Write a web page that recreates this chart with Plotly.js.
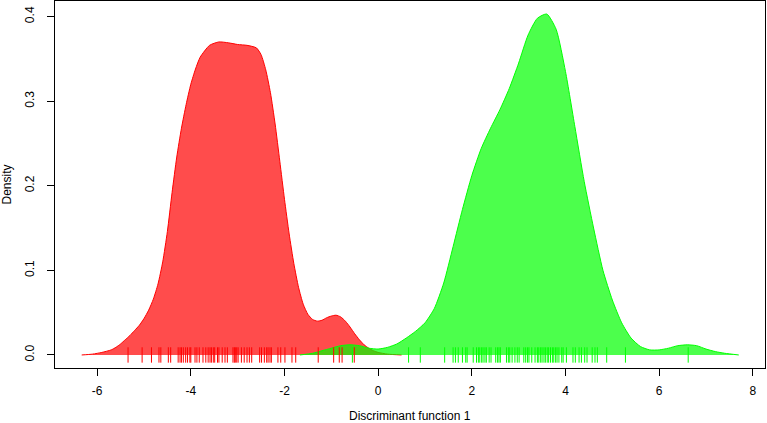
<!DOCTYPE html>
<html>
<head>
<meta charset="utf-8">
<script src="https://cdn.plot.ly/plotly-3.0.1.min.js"></script>
<style>html,body{margin:0;padding:0;background:#fff;}#chart{width:767px;height:423px;}</style>
</head>
<body>
<div id="chart"></div>
<script>
// Density of group 1 (red)
var redX = [-6.33,-6.1,-5.9,-5.7,-5.6,-5.5,-5.4,-5.3,-5.2,-5.1,-5.0,-4.9,-4.8,-4.7,-4.6,-4.5,-4.4,-4.3,-4.2,-4.1,-4.0,-3.9,-3.8,-3.6,-3.4,-3.2,-3.0,-2.8,-2.6,-2.5,-2.4,-2.3,-2.2,-2.1,-2.0,-1.9,-1.8,-1.7,-1.6,-1.5,-1.4,-1.3,-1.2,-1.1,-1.0,-0.9,-0.8,-0.7,-0.6,-0.5,-0.4,-0.3,-0.2,-0.1,0.0,0.2,0.5];
var redY = [0.000,0.001,0.003,0.006,0.009,0.013,0.018,0.023,0.029,0.035,0.043,0.053,0.066,0.084,0.110,0.146,0.192,0.234,0.268,0.296,0.320,0.338,0.352,0.366,0.370,0.369,0.367,0.366,0.363,0.355,0.337,0.310,0.273,0.229,0.184,0.143,0.108,0.080,0.060,0.048,0.042,0.040,0.041,0.044,0.046,0.047,0.045,0.040,0.033,0.025,0.018,0.012,0.008,0.005,0.003,0.001,0.000];
// Density of group 2 (green)
var greenX = [-1.67,-1.4,-1.2,-1.0,-0.8,-0.6,-0.4,-0.2,0.0,0.2,0.4,0.6,0.8,1.0,1.2,1.4,1.6,1.8,2.0,2.2,2.4,2.6,2.8,3.0,3.2,3.4,3.6,3.8,4.0,4.2,4.4,4.6,4.8,5.0,5.2,5.4,5.6,5.8,6.0,6.2,6.4,6.6,6.8,7.0,7.2,7.4,7.7];
var greenY = [0.000,0.002,0.005,0.008,0.011,0.012,0.011,0.008,0.007,0.009,0.013,0.020,0.028,0.038,0.055,0.085,0.128,0.172,0.212,0.244,0.268,0.290,0.315,0.345,0.378,0.398,0.403,0.385,0.335,0.270,0.205,0.150,0.100,0.065,0.038,0.020,0.010,0.006,0.006,0.008,0.011,0.012,0.011,0.007,0.004,0.002,0.000];
// Rug values
var redRug = [-5.34,-5.04,-4.84,-4.68,-4.64,-4.48,-4.43,-4.27,-4.23,-4.20,-4.16,-4.11,-4.07,-4.02,-4.00,-3.91,-3.87,-3.82,-3.74,-3.68,-3.63,-3.59,-3.56,-3.52,-3.49,-3.43,-3.40,-3.33,-3.27,-3.22,-3.10,-3.07,-3.05,-3.02,-2.99,-2.92,-2.86,-2.80,-2.75,-2.70,-2.53,-2.49,-2.43,-2.38,-2.35,-2.31,-2.28,-2.14,-2.08,-1.99,-1.84,-1.76,-1.28,-0.95,-0.83,-0.77,-0.51];
var greenRug = [-0.55,0.65,0.90,1.42,1.60,1.65,1.71,1.80,1.87,1.90,2.03,2.10,2.14,2.17,2.21,2.24,2.28,2.31,2.37,2.41,2.51,2.55,2.58,2.61,2.74,2.78,2.81,2.86,2.92,2.97,3.01,3.11,3.15,3.19,3.22,3.28,3.35,3.40,3.43,3.47,3.50,3.54,3.57,3.61,3.64,3.68,3.72,3.75,3.79,3.82,3.86,3.92,3.95,4.02,4.16,4.21,4.29,4.34,4.41,4.46,4.57,4.63,4.68,4.88,5.28,6.62];
var xTicks = [-6,-4,-2,0,2,4,6,8];
var yTicks = [0.0,0.1,0.2,0.3,0.4];
var yTickText = ['0.0','0.1','0.2','0.3','0.4'];
var xTitle = 'Discriminant function 1';
var yTitle = 'Density';

function zeros(a){return a.map(function(){return 0;});}

var traces = [
  {x: redX, y: redY, type:'scatter', mode:'lines', fill:'toself', fillcolor:'rgba(255,0,0,0.7)',
   line:{color:'rgb(255,0,0)', width:1, shape:'spline', smoothing:0.6}, hoverinfo:'skip'},
  {x: greenX, y: greenY, type:'scatter', mode:'lines', fill:'toself', fillcolor:'rgba(0,255,0,0.7)',
   line:{color:'rgb(0,255,0)', width:1, shape:'spline', smoothing:0.6}, hoverinfo:'skip'},
  {x: redRug, y: zeros(redRug), type:'scatter', mode:'markers',
   marker:{symbol:'line-ns', size:11, line:{color:'rgb(255,0,0)', width:1}}, hoverinfo:'x'},
  {x: greenRug, y: zeros(greenRug), type:'scatter', mode:'markers',
   marker:{symbol:'line-ns', size:11, line:{color:'rgb(0,255,0)', width:1}}, hoverinfo:'x'}
];

var font = {family:'"Liberation Sans", Arial, Helvetica, sans-serif', size:12, color:'#000'};

var layout = {
  width:767, height:423,
  margin:{l:55, r:2, t:1, b:55, pad:0},
  paper_bgcolor:'#fff', plot_bgcolor:'#fff',
  showlegend:false,
  font: font,
  xaxis:{
    range:[-6.90, 8.26], tickvals:xTicks, ticktext:xTicks.map(String),
    showgrid:false, zeroline:false, showline:true, mirror:true, linecolor:'#000', linewidth:1,
    ticks:'outside', ticklen:7, tickcolor:'#000', tickwidth:1, ticklabelstandoff:5
  },
  yaxis:{
    range:[-0.0154, 0.4184], tickvals:yTicks, ticktext:yTickText, tickangle:-90,
    showgrid:false, zeroline:false, showline:true, mirror:true, linecolor:'#000', linewidth:1,
    ticks:'outside', ticklen:7, tickcolor:'#000', tickwidth:1, ticklabelstandoff:8,
    title:{text:yTitle, font:font, standoff:14}
  },
  annotations:[
    {text:xTitle, xref:'paper', yref:'paper', x:0.5, y:0, xanchor:'center', yanchor:'middle',
     yshift:-48, showarrow:false, borderpad:0, font:font}
  ]
};

Plotly.newPlot('chart', traces, layout, {displayModeBar:false, staticPlot:true});
</script>
</body>
</html>
